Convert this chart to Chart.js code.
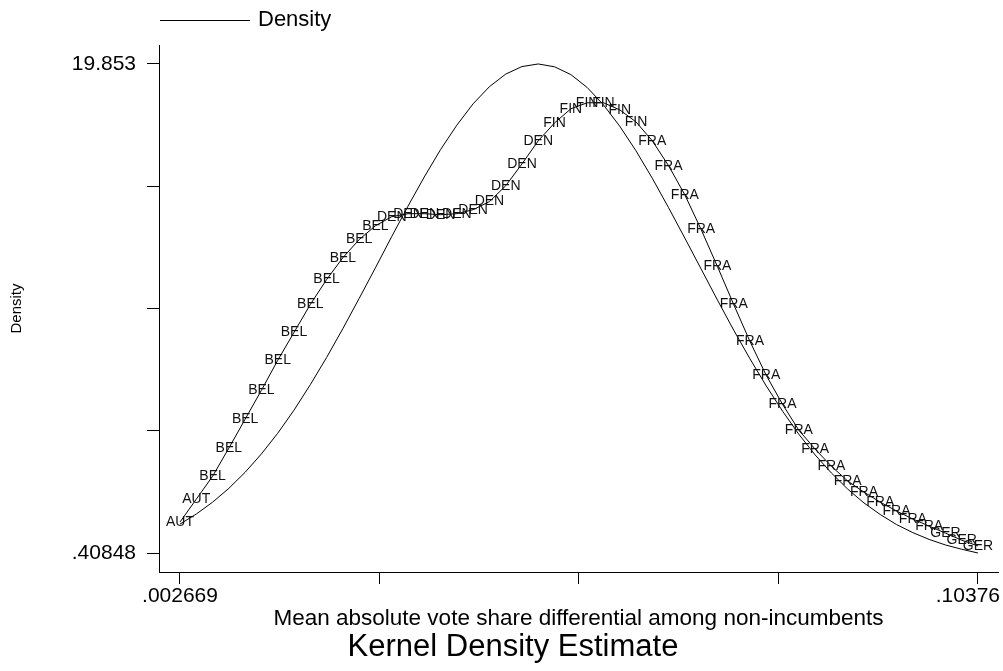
<!DOCTYPE html>
<html>
<head>
<meta charset="utf-8">
<title>Kernel Density Estimate</title>
<script src="https://cdn.jsdelivr.net/npm/chart.js@4.4.1/dist/chart.umd.min.js"></script>
<style>
  html, body { margin: 0; padding: 0; background: #fff; }
  canvas { display: block; }
</style>
</head>
<body>
<canvas id="kdens" width="1003" height="671"></canvas>
<script>
// evaluation grid (50 points between min and max of the vote share differential)
const gridX = [
  0.002669, 0.004732, 0.006795, 0.008858, 0.010921, 0.012984, 0.015047, 0.017111, 0.019174, 0.021237,
  0.023300, 0.025363, 0.027426, 0.029489, 0.031552, 0.033615, 0.035678, 0.037741, 0.039804, 0.041868,
  0.043931, 0.045994, 0.048057, 0.050120, 0.052183, 0.054246, 0.056309, 0.058372, 0.060435, 0.062498,
  0.064561, 0.066624, 0.068688, 0.070751, 0.072814, 0.074877, 0.076940, 0.079003, 0.081066, 0.083129,
  0.085192, 0.087255, 0.089318, 0.091381, 0.093445, 0.095508, 0.097571, 0.099634, 0.101697, 0.103760
];

// country id attached to each grid point
const countries = [
  'AUT', 'AUT',
  'BEL', 'BEL', 'BEL', 'BEL', 'BEL', 'BEL', 'BEL', 'BEL', 'BEL', 'BEL', 'BEL',
  'DEN', 'DEN', 'DEN', 'DEN', 'DEN', 'DEN', 'DEN', 'DEN', 'DEN', 'DEN',
  'FIN', 'FIN', 'FIN', 'FIN', 'FIN', 'FIN',
  'FRA', 'FRA', 'FRA', 'FRA', 'FRA', 'FRA', 'FRA', 'FRA', 'FRA', 'FRA',
  'FRA', 'FRA', 'FRA', 'FRA', 'FRA', 'FRA', 'FRA', 'FRA',
  'GER', 'GER', 'GER'
];

// kernel density at the grid points
const kernelDens = [
  1.64, 2.55, 3.46, 4.58, 5.73, 6.88, 8.07, 9.18, 10.29, 11.28,
  12.15, 12.87, 13.42, 13.78, 13.90, 13.90, 13.86, 13.90, 14.06, 14.38,
  15.01, 15.88, 16.80, 17.51, 18.07, 18.31, 18.31, 18.03, 17.55, 16.80,
  15.81, 14.65, 13.27, 11.80, 10.29, 8.82, 7.47, 6.32, 5.29, 4.54,
  3.86, 3.27, 2.83, 2.43, 2.08, 1.76, 1.48, 1.20, 0.92, 0.69
];

// normal density overlay
const normalDens = [
  1.56, 1.96, 2.43, 2.98, 3.62, 4.35, 5.17, 6.09, 7.10, 8.18,
  9.33, 10.53, 11.75, 12.99, 14.20, 15.36, 16.45, 17.42, 18.27, 18.95,
  19.45, 19.75, 19.853, 19.74, 19.43, 18.92, 18.23, 17.38, 16.40, 15.31,
  14.14, 12.93, 11.70, 10.47, 9.27, 8.13, 7.05, 6.05, 5.13, 4.31,
  3.59, 2.95, 2.40, 1.94, 1.54, 1.22, 0.95, 0.73, 0.56, 0.41
];

// axis ticks: only the end points carry labels
const xTickLabels = ['.002669', '', '', '', '.10376'];
const yTickLabels = ['.40848', '', '', '', '19.853'];
const xEnds = [0.002669, 0.10376];
const yEnds = [0.40848, 19.853];

const FONT = '"Liberation Sans", Arial, Helvetica, sans-serif';

function evenTicks(ends, n) {
  const out = [];
  for (let i = 0; i < n; i++) out.push({ value: ends[0] + (ends[1] - ends[0]) * i / (n - 1) });
  return out;
}

const toPts = (ys) => ys.map((y, i) => ({ x: gridX[i], y: y }));

// country ids written on top of the kernel density line
const countryLabels = {
  id: 'countryLabels',
  afterDatasetsDraw(chart) {
    const ctx = chart.ctx;
    const meta = chart.getDatasetMeta(1);
    ctx.save();
    ctx.font = '14px ' + FONT;
    ctx.fillStyle = '#111';
    ctx.textAlign = 'center';
    ctx.textBaseline = 'middle';
    meta.data.forEach((pt, i) => ctx.fillText(countries[i], pt.x, pt.y));
    ctx.restore();
  }
};

// keep the last x label inside the canvas (right aligned to the edge)
const fitLastXLabel = {
  id: 'fitLastXLabel',
  beforeDraw(chart) {
    const items = chart.scales.x.getLabelItems();
    const last = items[items.length - 1];
    if (last && last.label) {
      last.options.textAlign = 'right';
      last.options.translation[0] = 1000;
    }
  }
};

// single-key legend above the plot
const keyLegend = {
  id: 'keyLegend',
  afterDraw(chart) {
    const ctx = chart.ctx;
    const ds = chart.data.datasets[0];
    ctx.save();
    ctx.strokeStyle = ds.borderColor;
    ctx.lineWidth = 1;
    ctx.beginPath();
    ctx.moveTo(160, 20.5);
    ctx.lineTo(250, 20.5);
    ctx.stroke();
    ctx.fillStyle = '#000';
    ctx.font = '22px ' + FONT;
    ctx.textBaseline = 'middle';
    ctx.fillText(ds.label, 258, 20);
    ctx.restore();
  }
};

new Chart(document.getElementById('kdens'), {
  type: 'line',
  data: {
    datasets: [
      {
        label: 'Density',
        data: toPts(normalDens),
        borderColor: '#000',
        borderWidth: 1,
        pointRadius: 0,
        tension: 0,
        fill: false
      },
      {
        label: 'kdensity',
        data: toPts(kernelDens),
        borderColor: '#000',
        borderWidth: 1,
        pointRadius: 0,
        tension: 0,
        fill: false
      }
    ]
  },
  options: {
    responsive: false,
    animation: false,
    layout: { padding: { top: 45, right: 5, left: 28, bottom: 0 } },
    plugins: {
      legend: { display: false },
      tooltip: { enabled: false },
      title: {
        display: true,
        position: 'bottom',
        text: 'Kernel Density Estimate',
        color: '#000',
        font: { family: FONT, size: 31, weight: 'normal', lineHeight: 1 },
        padding: { top: 0, bottom: 8 }
      }
    },
    scales: {
      x: {
        type: 'linear',
        min: 0.000009,
        max: 0.106294,
        afterBuildTicks: (s) => { s.ticks = evenTicks(xEnds, xTickLabels.length); },
        afterFit: (s) => { s.height = 60; s.paddingLeft = 0; s.paddingRight = 0; },
        ticks: {
          autoSkip: false,
          maxRotation: 0,
          padding: 0,
          color: '#000',
          font: { family: FONT, size: 21 },
          callback: (v, i) => xTickLabels[i]
        },
        grid: { drawOnChartArea: false, drawTicks: true, tickLength: 12, color: '#000' },
        border: { display: true, color: '#000', width: 1 },
        title: {
          display: true,
          text: 'Mean absolute vote share differential among non-incumbents',
          color: '#000',
          font: { family: FONT, size: 22.5 },
          padding: { top: 0, bottom: 0 }
        }
      },
      y: {
        type: 'linear',
        min: -0.345,
        max: 20.607,
        afterBuildTicks: (s) => { s.ticks = evenTicks(yEnds, yTickLabels.length); },
        afterFit: (s) => { s.width = 131; s.paddingTop = 0; s.paddingBottom = 0; },
        ticks: {
          autoSkip: false,
          padding: 11,
          color: '#000',
          font: { family: FONT, size: 21 },
          callback: (v, i) => yTickLabels[i]
        },
        grid: { drawOnChartArea: false, drawTicks: true, tickLength: 12, color: '#000' },
        border: { display: true, color: '#000', width: 1 },
        title: {
          display: true,
          text: 'Density',
          color: '#000',
          font: { family: FONT, size: 15 },
          padding: { top: -20, bottom: 0 }
        }
      }
    }
  },
  plugins: [countryLabels, fitLastXLabel, keyLegend]
});
</script>
</body>
</html>
